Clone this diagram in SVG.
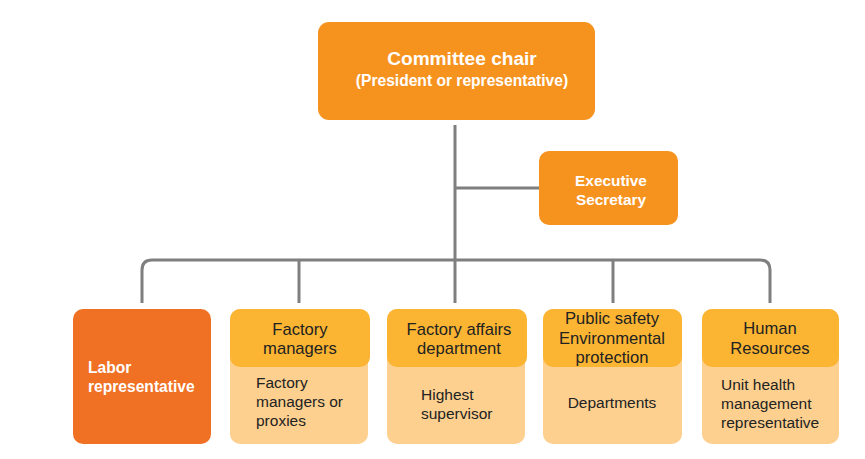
<svg xmlns="http://www.w3.org/2000/svg" width="865" height="459" viewBox="0 0 865 459">
<style>
.main{fill:#F6931F;}
.labor{fill:#F07024;}
.head{fill:#FBB532;}
.body{fill:#FDD08F;}
.wt{font-family:"Liberation Sans",Arial,sans-serif;font-weight:bold;fill:#ffffff;}
.dt{font-family:"Liberation Sans",Arial,sans-serif;fill:#222222;font-size:15.5px;}
.ht{font-size:16.6px;}
.ln{fill:none;stroke:#7F7F7F;stroke-width:3;}
</style>
<rect width="865" height="459" fill="#ffffff"/>
<g id="connectors">
<line class="ln" x1="455" y1="125" x2="455" y2="303"/>
<line class="ln" x1="455" y1="188" x2="539" y2="188"/>
<path class="ln" d="M142,303 V270 Q142,260 152,260 H760 Q770,260 770,270 V303"/>
<line class="ln" x1="299" y1="260" x2="299" y2="303"/>
<line class="ln" x1="613" y1="260" x2="613" y2="303"/>
</g>
<g id="chair">
<rect class="main" x="318" y="22" width="277" height="98" rx="11"/>
<text class="wt" x="462" y="65" font-size="19.1" text-anchor="middle">Committee chair</text>
<text class="wt" x="462" y="86" font-size="15.6" text-anchor="middle">(President or representative)</text>
</g>
<g id="secretary">
<rect class="main" x="539" y="151" width="139" height="74" rx="10"/>
<text class="wt" x="611" y="186" font-size="15.4" text-anchor="middle">Executive</text>
<text class="wt" x="611" y="205" font-size="15.4" text-anchor="middle">Secretary</text>
</g>
<g id="labor">
<rect class="labor" x="73" y="309" width="138" height="135" rx="10"/>
<text class="wt" x="88" y="373" font-size="15.6">Labor</text>
<text class="wt" x="88" y="392" font-size="15.6">representative</text>
</g>
<g id="factory-managers">
<rect class="body" x="230" y="309" width="138" height="135" rx="10"/>
<rect class="head" x="230" y="309" width="140" height="58" rx="10"/>
<text class="dt ht" x="300" y="335" text-anchor="middle">Factory</text>
<text class="dt ht" x="300" y="354" text-anchor="middle">managers</text>
<text class="dt" x="256" y="388">Factory</text>
<text class="dt" x="256" y="407">managers or</text>
<text class="dt" x="256" y="426">proxies</text>
</g>
<g id="factory-affairs">
<rect class="body" x="387" y="309" width="138" height="135" rx="10"/>
<rect class="head" x="387" y="309" width="140" height="58" rx="10"/>
<text class="dt ht" x="459" y="335" text-anchor="middle">Factory affairs</text>
<text class="dt ht" x="459" y="354" text-anchor="middle">department</text>
<text class="dt" x="421" y="400">Highest</text>
<text class="dt" x="421" y="419">supervisor</text>
</g>
<g id="public-safety">
<rect class="body" x="543" y="309" width="139" height="135" rx="10"/>
<rect class="head" x="543" y="309" width="139" height="58" rx="10"/>
<text class="dt ht" x="612" y="324" text-anchor="middle">Public safety</text>
<text class="dt ht" x="612" y="344" text-anchor="middle">Environmental</text>
<text class="dt ht" x="612" y="363" text-anchor="middle">protection</text>
<text class="dt" x="612" y="408" text-anchor="middle">Departments</text>
</g>
<g id="human-resources">
<rect class="body" x="702" y="309" width="137" height="135" rx="10"/>
<rect class="head" x="702" y="309" width="137" height="58" rx="10"/>
<text class="dt ht" x="770" y="334" text-anchor="middle">Human</text>
<text class="dt ht" x="770" y="354" text-anchor="middle">Resources</text>
<text class="dt" x="721" y="390">Unit health</text>
<text class="dt" x="721" y="409">management</text>
<text class="dt" x="721" y="428">representative</text>
</g>
</svg>
